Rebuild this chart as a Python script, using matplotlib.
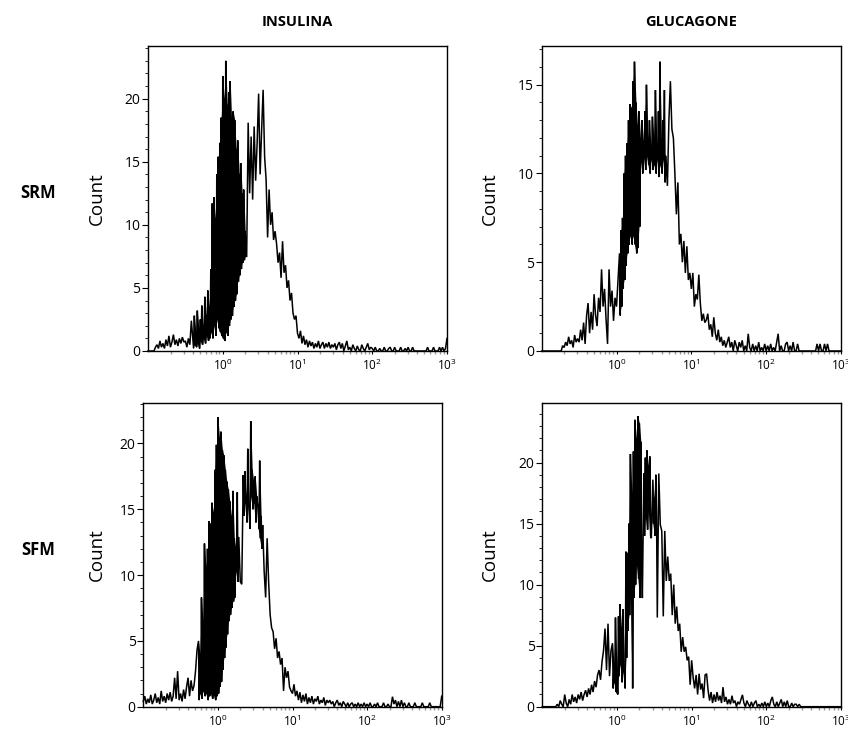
import numpy as np
import matplotlib
matplotlib.use("Agg")
import matplotlib.pyplot as plt
from matplotlib.ticker import MultipleLocator, FixedLocator, LogLocator, LogFormatterMathtext, NullFormatter

plt.rcParams['font.family'] = ['Open Sans', 'DejaVu Sans']
plt.rcParams['mathtext.default'] = 'regular'

# ---------------- data ----------------
column_titles = ["INSULINA", "GLUCAGONE"]
row_titles = ["SRM", "SFM"]
x_tick_values = [1, 10, 100, 1000]

# histogram channels: log10(fluorescence) from -1.00 to 3.00, step 0.02
log_start = -1.0
log_step = 0.02

insulina_srm_counts = [
    0, 0, 0, 0, 0, 0.3, 0.5, 0.2, 0.8, 0.3, 0.6, 0.2, 0.9, 0.4, 1.2, 0.3, 0.7, 1.3, 0.5, 0.9, 0.4, 1.0, 0.6, 1.1, 0.7,
    0.8, 0.3, 1.0, 0.5, 2.4, 1.0, 2.8, 1.5, 3.2, 1.8, 2.5, 3.6, 2.0, 4.3, 2.8, 4.8, 3.5, 6.5, 11.7, 12.2, 10.5, 14.0, 15.4, 16.5, 18.5,
    21.8, 20.0, 23.0, 19.5, 20.5, 21.4, 18.0, 19.0, 18.3, 16.0, 16.7, 14.0, 14.9, 12.5, 12.8, 9.5, 7.5, 18.1, 12.5, 17.0, 12.0, 17.8, 13.5, 16.5, 20.4,
    14.0, 17.5, 20.7, 15.4, 13.6, 9.0, 12.8, 10.0, 11.0, 8.8, 9.5, 8.5, 7.0, 7.8, 5.8, 8.7, 6.2, 6.8, 5.0, 5.6, 4.0, 4.6, 3.0, 2.5, 2.8,
    1.4, 1.0, 1.6, 0.6, 1.2, 0.5, 0.9, 0.3, 0.8, 0.4, 0.7, 0.2, 0.6, 0.3, 0.8, 0.2, 0.5, 0.7, 0.2, 0.6, 0.3, 0.7, 0.2, 0.5, 0.3,
    0.6, 0.1, 0.5, 0.7, 0.2, 0.6, 0.0, 0.4, 0.8, 0.1, 0.3, 0.0, 0.5, 0.2, 0.0, 0.4, 0.1, 0.0, 0.5, 0.2, 0.0, 0.3, 0.6, 0.1, 0.3,
    0.2, 0.0, 0.3, 0.0, 0.0, 0.2, 0.0, 0.0, 0.3, 0.0, 0.0, 0.2, 0.3, 0.0, 0.0, 0.3, 0.0, 0.0, 0.0, 0.3, 0.0, 0.0, 0.2, 0.0, 0.3,
    0.0, 0.0, 0.3, 0.0, 0.0, 0.0, 0.0, 0.0, 0.0, 0.0, 0.0, 0.0, 0.3, 0.0, 0.0, 0.0, 0.3, 0.0, 0.0, 0.0, 0.3, 0.0, 0.3, 0.0, 0.2,
    1.0,
]
# lower envelope of the densely over-plotted parts: (first log10 channel, values)
insulina_srm_floor = [
    (-0.40, [0.2, 0.5, 0.3, 0.6, 0.2, 0.8, 0.5, 1.0, 0.6, 1.2, 0.8, 1.0,
             1.5, 1.0, 2.0, 1.2, 2.5, 1.8, 1.5, 1.2,
             1.0, 0.8, 1.5, 1.2, 2.0, 2.5, 2.8, 3.5, 4.0, 4.5, 5.5, 6.0, 6.5, 7.0, 7.2, 7.5]),
]

glucagone_srm_counts = [
    0, 0, 0, 0, 0, 0, 0, 0, 0, 0, 0, 0, 0, 0, 0.3, 0.2, 0.5, 0.3, 0.8, 0.4, 0.6, 0.2, 0.9, 0.5, 0.7,
    0.5, 1.2, 0.6, 1.6, 0.4, 2.0, 2.7, 1.0, 2.2, 1.2, 3.2, 2.0, 1.4, 3.0, 2.2, 4.6, 2.5, 3.5, 1.8, 0.4, 4.6, 2.5, 3.4, 1.7, 3.0,
    2.5, 4.0, 5.5, 6.8, 7.5, 10.0, 11.0, 11.7, 13.0, 13.9, 13.7, 15.2, 16.3, 14.0, 12.7, 13.5, 12.0, 13.0, 11.8, 13.5, 15.0, 12.0, 13.0, 11.5, 13.2,
    12.0, 14.7, 11.5, 13.5, 16.3, 12.0, 13.0, 14.7, 11.0, 9.3, 13.0, 15.2, 12.5, 12.0, 10.0, 7.7, 9.5, 6.0, 6.6, 5.0, 6.2, 4.4, 5.9, 4.0, 4.4,
    3.5, 4.4, 2.5, 3.2, 2.9, 4.3, 2.7, 1.7, 2.1, 1.6, 1.75, 2.1, 1.2, 1.5, 0.8, 1.9, 1.0, 0.6, 1.2, 0.5, 0.8, 0.3, 0.6, 0.2, 0.5,
    0.8, 0.2, 0.5, 0.0, 0.6, 0.3, 0.0, 0.5, 0.2, 0.6, 0.0, 0.3, 0.0, 0.97, 0.2, 0.0, 0.4, 0.0, 0.3, 0.0, 0.5, 0.0, 0.2, 0.0, 0.4,
    0.0, 0.3, 0.0, 0.4, 0.0, 0.2, 0.0, 0.5, 0.97, 0.0, 0.3, 0.0, 0.0, 0.4, 0.5, 0.0, 0.3, 0.0, 0.5, 0.0, 0.0, 0.4, 0.0, 0.0, 0.0,
    0.0, 0.0, 0.0, 0.0, 0.0, 0.0, 0.0, 0.0, 0.0, 0.4, 0.0, 0.4, 0.0, 0.0, 0.4, 0.0, 0.4, 0.0, 0.0, 0.0, 0.0, 0.0, 0.0, 0.0, 0.0,
    0.0,
]
glucagone_srm_floor = [
    (0.04, [2.0, 2.5, 3.5, 4.0, 4.8, 5.5, 6.0, 6.5, 6.0, 6.5, 6.0, 5.5, 5.8, 7.0,
            10.7, 10.0, 10.9, 10.2, 11.0, 10.5, 10.0, 10.8, 10.2, 10.5, 10.0, 10.8, 9.8, 10.5, 10.0, 10.8, 9.5]),
]

insulina_sfm_counts = [
    0.4, 0.8, 0.2, 0.6, 0.3, 0.9, 0.2, 0.5, 1.0, 0.3, 0.7, 0.2, 1.2, 0.4, 0.8, 0.3, 1.0, 0.5, 1.1, 0.4, 0.8, 2.2, 0.6, 2.7, 0.5,
    1.0, 0.4, 1.3, 0.6, 1.5, 2.2, 0.8, 2.0, 1.2, 1.6, 2.7, 4.3, 5.0, 4.0, 8.3, 6.5, 12.4, 10.6, 12.0, 14.1, 13.9, 15.5, 14.8, 18.0, 19.9,
    22.0, 20.5, 20.9, 19.5, 19.1, 18.0, 17.1, 16.5, 15.6, 14.5, 16.4, 12.8, 12.0, 16.3, 12.9, 9.5, 9.3, 17.6, 17.9, 16.0, 19.6, 14.8, 21.7, 18.0, 17.1,
    17.5, 16.0, 15.3, 18.7, 14.5, 13.8, 10.3, 8.3, 12.8, 9.5, 7.0, 6.0, 5.7, 4.4, 5.2, 3.7, 4.2, 3.2, 3.7, 1.2, 3.0, 2.2, 2.7, 1.5, 1.2,
    1.0, 1.7, 0.8, 1.2, 0.5, 1.1, 0.3, 0.9, 0.4, 1.0, 0.2, 0.7, 0.3, 0.8, 0.2, 0.6, 0.4, 0.8, 0.2, 0.5, 0.3, 0.7, 0.1, 0.5, 0.3,
    0.5, 0.2, 0.4, 0.0, 0.3, 0.5, 0.1, 0.3, 0.0, 0.4, 0.2, 0.0, 0.3, 0.0, 0.2, 0.3, 0.0, 0.2, 0.0, 0.3, 0.0, 0.2, 0.0, 0.3, 0.0,
    0.2, 0.0, 0.3, 0.0, 0.0, 0.2, 0.0, 0.3, 0.0, 0.0, 0.0, 0.3, 0.0, 0.0, 0.2, 0.0, 0.0, 0.76, 0.2, 0.5, 0.0, 0.4, 0.0, 0.5, 0.0,
    0.3, 0.0, 0.0, 0.3, 0.0, 0.0, 0.0, 0.3, 0.0, 0.0, 0.0, 0.0, 0.3, 0.0, 0.0, 0.0, 0.0, 0.3, 0.0, 0.0, 0.0, 0.0, 0.0, 0.0, 0.0,
    0.8,
]
insulina_sfm_floor = [
    (-0.26, [0.5, 1.0, 0.6, 1.2, 0.8, 1.0, 0.5, 0.8, 1.0, 0.6, 0.9, 0.5, 0.8,
             1.0, 1.5, 1.9, 2.8, 3.7, 4.5, 5.5, 6.5, 7.0, 7.5, 8.0, 8.3, 10.3, 9.5]),
    (0.34, [14.5, 15.5, 14.0, 15.5, 13.5, 16.0, 15.0, 15.5, 14.0, 15.3, 13.5, 12.8, 12.0]),
]

glucagone_sfm_counts = [
    0, 0, 0, 0, 0, 0, 0, 0, 0, 0, 0.2, 0.0, 0.5, 0.2, 0.0, 1.0, 0.3, 0.0, 0.6, 0.2, 1.0, 0.4, 0.8, 0.3, 1.0,
    0.6, 1.2, 0.5, 1.0, 1.35, 0.8, 1.5, 1.0, 1.8, 1.2, 2.1, 1.6, 2.6, 3.0, 2.2, 3.7, 4.6, 6.4, 3.0, 6.8, 2.5, 4.6, 5.2, 3.5, 7.3,
    3.0, 7.4, 8.4, 6.5, 8.0, 2.6, 12.7, 12.6, 15.0, 20.7, 17.5, 20.9, 23.5, 22.0, 23.8, 23.2, 21.7, 8.9, 19.1, 20.4, 21.0, 19.8, 20.5, 13.8, 18.6,
    17.1, 19.0, 7.3, 19.1, 14.9, 14.4, 7.4, 14.4, 10.3, 12.3, 10.3, 10.9, 7.5, 10.0, 6.8, 8.2, 6.2, 6.8, 4.5, 5.7, 4.5, 4.9, 3.8, 4.1, 1.8,
    3.8, 2.4, 1.5, 2.6, 1.0, 2.7, 1.4, 1.9, 0.7, 2.6, 2.7, 1.35, 0.5, 1.2, 0.3, 1.0, 0.4, 1.2, 0.5, 0.9, 0.3, 1.6, 0.4, 0.8, 0.2,
    0.6, 0.2, 0.9, 0.3, 0.5, 0.0, 0.4, 0.2, 0.6, 0.97, 0.3, 0.0, 0.5, 0.2, 0.0, 0.4, 0.0, 0.3, 0.5, 0.0, 0.2, 0.0, 0.3, 0.0, 0.4,
    0.0, 0.3, 0.0, 0.5, 0.8, 0.2, 0.0, 0.4, 0.0, 0.3, 0.6, 0.0, 0.4, 0.0, 0.5, 0.0, 0.0, 0.3, 0.0, 0.2, 0.2, 0.0, 0.2, 0.0, 0.0,
    0.0, 0.0, 0.0, 0.0, 0.0, 0.0, 0.0, 0.0, 0.0, 0.0, 0.0, 0.0, 0.0, 0.0, 0.0, 0.0, 0.0, 0.0, 0.0, 0.0, 0.0, 0.0, 0.0, 0.0, 0.0,
    0.0,
]
glucagone_sfm_floor = [
    (-0.06, [1.5, 2.0, 1.2, 1.0, 2.5, 3.5, 2.0, 3.0, 1.5,
             4.0, 6.2, 7.5, 8.9, 1.5, 8.9, 10.0, 11.6, 10.5, 8.9, 12.0]),
    (0.36, [14.0, 15.5, 14.5, 16.0, 14.0]),
    (0.48, [15.0, 14.0, 15.5]),
]

y_limits = [[24.2, 17.2], [23.1, 24.9]]
y_major_step = 5

panels = [
    [(insulina_srm_counts, insulina_srm_floor), (glucagone_srm_counts, glucagone_srm_floor)],
    [(insulina_sfm_counts, insulina_sfm_floor), (glucagone_sfm_counts, glucagone_sfm_floor)],
]

# ---------------- layout (pixels of the 848x731 reference) ----------------
W, H = 848, 731
axes_px = [
    [(148.0, 45.7, 447.0, 351.0), (541.7, 45.7, 841.0, 351.0)],
    [(143.3, 402.7, 441.7, 706.7), (542.3, 402.7, 841.0, 706.7)],
]
count_label_x = [97, 490]
title_y = 22
row_label_x = 38


def channel_logs(n):
    return log_start + log_step * np.arange(n)


def build_trace(counts, floors):
    n = len(counts)
    logs = channel_logs(n)
    low = np.full(n, np.nan)
    for start, vals in floors:
        i0 = int(round((start - log_start) / log_step))
        low[i0:i0 + len(vals)] = vals
    xs, ys = [], []
    for i in range(n):
        xs.append(logs[i])
        ys.append(counts[i])
        if not np.isnan(low[i]):
            xs.append(logs[i] + log_step / 2)
            ys.append(low[i])
    return 10 ** np.array(xs), np.array(ys)


fig = plt.figure(figsize=(W / 100, H / 100), dpi=100)
fig.patch.set_facecolor('white')

for r in range(2):
    for c in range(2):
        x0, y0, x1, y1 = axes_px[r][c]
        ax = fig.add_axes([x0 / W, 1 - y1 / H, (x1 - x0) / W, (y1 - y0) / H])
        counts, floors = panels[r][c]
        logs = channel_logs(len(counts))
        # solid over-plotted cores
        for start, vals in floors:
            i0 = int(round((start - log_start) / log_step))
            seg = slice(i0, i0 + len(vals))
            ax.fill_between(10 ** logs[seg], vals, np.asarray(counts)[seg],
                            color='black', lw=0, zorder=2)
        xs, ys = build_trace(counts, floors)
        ax.plot(xs, ys, color='black', lw=1.1, solid_joinstyle='miter', clip_on=False, zorder=3)
        ax.set_xscale('log')
        ax.set_xlim(10 ** log_start, 1000)
        ax.set_ylim(0, y_limits[r][c])

        ax.xaxis.set_major_locator(FixedLocator(x_tick_values))
        ax.xaxis.set_major_formatter(LogFormatterMathtext())
        ax.xaxis.set_minor_locator(LogLocator(base=10, subs=np.arange(2, 10)))
        ax.xaxis.set_minor_formatter(NullFormatter())
        ax.yaxis.set_major_locator(MultipleLocator(y_major_step))
        ax.yaxis.set_minor_locator(MultipleLocator(1))

        ax.tick_params(axis='y', which='major', direction='out', length=4, width=0.8, labelsize=10, pad=1.5)
        ax.tick_params(axis='y', which='minor', direction='out', length=2.5, width=0.6)
        ax.tick_params(axis='x', which='major', direction='out', length=2.5, width=0.8, labelsize=8.5, pad=2.5)
        ax.tick_params(axis='x', which='minor', direction='out', length=1.8, width=1.0, color='0.6')
        for s in ax.spines.values():
            s.set_linewidth(1.0)
            s.set_color('black')

        fig.text(count_label_x[c] / W, 1 - ((y0 + y1) / 2) / H, "Count", rotation=90,
                 ha='center', va='center', fontsize=13.5)

for c, title in enumerate(column_titles):
    x0, _, x1, _ = axes_px[0][c]
    fig.text(((x0 + x1) / 2) / W, 1 - title_y / H, title, ha='center', va='center',
             fontsize=10.5, fontweight='bold')

for r, label in enumerate(row_titles):
    _, y0, _, y1 = axes_px[r][0]
    fig.text(row_label_x / W, 1 - ((y0 + y1) / 2 - 5) / H, label, ha='center', va='center',
             fontsize=12, fontweight='bold')

fig.savefig('out.png', dpi=100, facecolor='white')
